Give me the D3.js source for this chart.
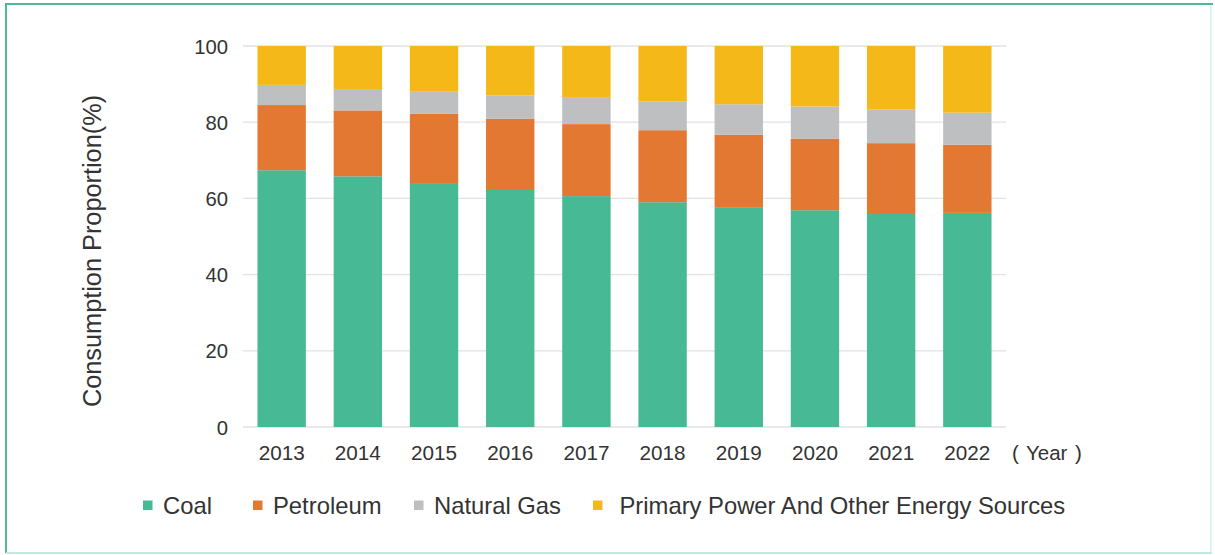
<!DOCTYPE html>
<html>
<head>
<meta charset="utf-8">
<script src="https://cdn.jsdelivr.net/npm/d3@7/dist/d3.min.js"></script>
<style>
  html, body { margin: 0; padding: 0; background: #fff; }
  svg { display: block; }
  text { font-family: "Liberation Sans", Arial, sans-serif; fill: #333; }
</style>
</head>
<body>
<svg id="chart" width="1215" height="555"></svg>
<script>
const years = ["2013","2014","2015","2016","2017","2018","2019","2020","2021","2022"];
const seriesNames = ["Coal","Petroleum","Natural Gas","Primary Power And Other Energy Sources"];
const coal      = [67.4, 65.8, 63.8, 62.2, 60.6, 59.0, 57.7, 56.9, 55.9, 56.2];
const petroleum = [17.1, 17.3, 18.4, 18.7, 18.9, 18.9, 19.0, 18.8, 18.6, 17.9];
const naturalGas= [5.3, 5.6, 5.8, 6.1, 6.9, 7.6, 8.0, 8.4, 8.8, 8.4];
const primary   = [10.2, 11.3, 12.0, 13.0, 13.6, 14.5, 15.3, 15.9, 16.7, 17.5];
const yTicks = [0, 20, 40, 60, 80, 100];
const yTitle = "Consumption Proportion(%)";
const xUnit = ["(", "Year", ")"];

const colors = ["#47b994", "#e37832", "#bebfc0", "#f4b919"];
const keys = ["coal","petroleum","naturalGas","primary"];
const table = years.map((y, i) => ({
  year: y, coal: coal[i], petroleum: petroleum[i], naturalGas: naturalGas[i], primary: primary[i]
}));

const svg = d3.select("#chart");

// frame
svg.append("line").attr("x1", 5).attr("x2", 1213).attr("y1", 4).attr("y2", 4)
  .attr("stroke", "#4dba94").attr("stroke-width", 2.2);
svg.append("line").attr("x1", 6).attr("x2", 6).attr("y1", 3).attr("y2", 553)
  .attr("stroke", "#4dba94").attr("stroke-width", 2);
svg.append("line").attr("x1", 1211).attr("x2", 1211).attr("y1", 5).attr("y2", 553)
  .attr("stroke", "#d7f1e8").attr("stroke-width", 1.5);
svg.append("line").attr("x1", 6).attr("x2", 1212).attr("y1", 553).attr("y2", 553)
  .attr("stroke", "#c2eadb").attr("stroke-width", 2);

const x = d3.scaleBand().domain(years).range([243, 1006]).paddingInner(0.365).paddingOuter(0.19);
const y = d3.scaleLinear().domain([0, 100]).range([427, 46]);

// grid
svg.append("g").selectAll("line").data(yTicks).join("line")
  .attr("x1", 243).attr("x2", 1006)
  .attr("y1", d => y(d)).attr("y2", d => y(d))
  .attr("stroke", "#e2e2e2").attr("stroke-width", 1.3);

// y axis labels
const yAxis = d3.axisLeft(y).tickValues(yTicks).tickSize(0).tickPadding(0);
const gy = svg.append("g").attr("transform", "translate(228,0)").call(yAxis);
gy.select(".domain").remove();
gy.selectAll("text").style("font-size", "20.3px").attr("fill", "#333").attr("dy", "0.35em");

// stacked bars
const stack = d3.stack().keys(keys)(table);
svg.append("g").selectAll("g").data(stack).join("g")
  .attr("fill", (d, i) => colors[i])
  .selectAll("rect").data(d => d).join("rect")
  .attr("x", d => x(d.data.year))
  .attr("width", x.bandwidth())
  .attr("y", d => y(d[1]))
  .attr("height", d => y(d[0]) - y(d[1]));

// x axis labels
const xAxis = d3.axisBottom(x).tickSize(0).tickPadding(0);
const gx = svg.append("g").attr("transform", "translate(0,445)").call(xAxis);
gx.select(".domain").remove();
gx.selectAll("text").style("font-size", "20.7px").attr("fill", "#333").attr("dy", "0.71em");

const unit = svg.append("text").attr("x", 1012).attr("y", 459.5).style("font-size", "20.5px");
unit.append("tspan").text(xUnit[0]);
unit.append("tspan").attr("x", 1026).text(xUnit[1]);
unit.append("tspan").attr("x", 1075).text(xUnit[2]);

// y title
svg.append("text")
  .attr("transform", "translate(101,251) rotate(-90)")
  .attr("text-anchor", "middle")
  .style("font-size", "25.3px")
  .text(yTitle);

// legend
const legendX = [143, 253, 414, 593];
const lg = svg.append("g").selectAll("g").data(seriesNames).join("g")
  .attr("transform", (d, i) => `translate(${legendX[i]},0)`);
lg.append("rect").attr("x", 0).attr("y", 500.5).attr("width", 9.5).attr("height", 9.5)
  .attr("fill", (d, i) => colors[i]);
lg.append("text").attr("x", (d, i) => i === 3 ? 26.5 : 20).attr("y", 513.5)
  .style("font-size", "23.8px").text(d => d);
</script>
</body>
</html>
